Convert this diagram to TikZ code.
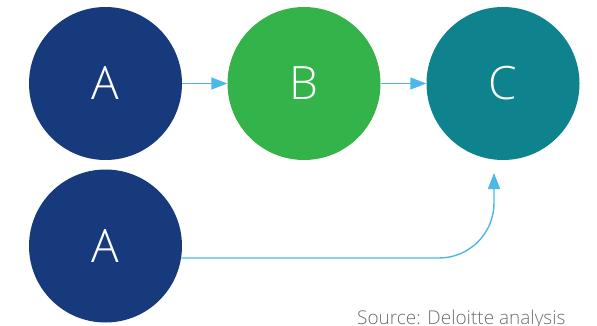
\documentclass[tikz,border=0pt]{standalone}
\usepackage{fontspec}
\setmainfont{Open Sans Light}
\usetikzlibrary{arrows.meta}
\definecolor{cA}{HTML}{163A7B}
\definecolor{cB}{HTML}{33B34A}
\definecolor{cC}{HTML}{0E838D}
\definecolor{cArrow}{HTML}{4DB8E8}
\definecolor{cSrc}{HTML}{6D6E71}
\tikzset{
  ball/.style={circle, minimum size=153pt, inner sep=0pt, text=white, font=\fontsize{46}{46}\selectfont},
  link/.style={draw=cArrow, line width=1.4pt, -{Triangle[length=16pt,width=12pt]}},
}
\begin{document}
\begin{tikzpicture}[x=1pt,y=1pt]
\useasboundingbox (0,0) rectangle (597,325);
\node[ball, fill=cA] (A1) at (105.5,241.5) {A};
\node[ball, fill=cB] (B) at (304,241.5) {B};
\node[ball, fill=cC] (C) at (503,241.5) {C};
\node[ball, fill=cA] (A2) at (105.5,79) {A};
\coordinate (t) at (494,152);
\draw[link] (A1) -- (B);
\draw[link] (B) -- (C);
\draw[link, rounded corners=55pt] (A2.-9) -| (t);
\node[anchor=base west, inner sep=0pt, text=cSrc, font=\fontsize{19}{19}\selectfont] (src) at (357,0.5) {Source: Deloitte analysis};
\end{tikzpicture}
\end{document}
